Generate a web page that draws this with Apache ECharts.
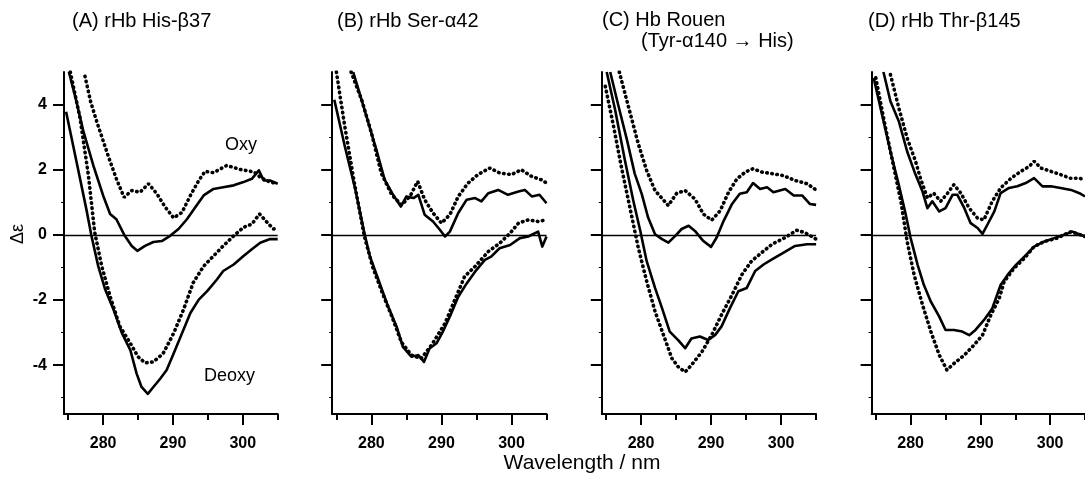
<!DOCTYPE html>
<html>
<head>
  <meta charset="utf-8">
  <script src="https://cdn.jsdelivr.net/npm/echarts@6.0.0/dist/echarts.min.js"></script>
  <style>
    html, body { margin: 0; padding: 0; background: #fff; }
    #main { width: 1085px; height: 483px; }
  </style>
</head>
<body>
  <div id="main"></div>
  <script type="text/javascript">
    // 读图得到的数据 [波长 nm, Δε]
    var A_oxy_dot = [[277.4,4.87],[278.2,4.1],[279.1,3.47],[280.7,2.44],[281.9,1.72],[283.0,1.15],[284.1,1.36],[285.3,1.31],[286.5,1.57],[287.7,1.26],[288.9,0.85],[290.1,0.52],[291.3,0.69],[292.5,1.21],[293.7,1.67],[294.6,1.95],[295.8,1.91],[297.7,2.13],[299.6,2.01],[301.6,1.93],[302.5,1.77],[303.9,1.62],[305,1.57]];
    var A_oxy_solid = [[275.1,5.0],[276.0,4.25],[277.2,3.16],[278.6,2.13],[280.0,1.21],[281.0,0.64],[281.9,0.48],[283.1,-0.03],[284.1,-0.34],[284.9,-0.49],[286.0,-0.34],[287.2,-0.22],[288.4,-0.19],[289.6,-0.03],[290.8,0.18],[292.0,0.48],[293.2,0.85],[294.4,1.21],[295.8,1.41],[297.2,1.46],[298.7,1.52],[300.1,1.62],[301.3,1.72],[302.3,1.98],[303.0,1.67],[303.9,1.67],[305,1.57]];
    var A_deoxy_solid = [[274.7,3.78],[276.2,2.24],[277.6,0.79],[278.3,0],[279.3,-0.96],[280.3,-1.68],[281.5,-2.3],[282.7,-3.02],[283.9,-3.54],[284.8,-4.26],[285.5,-4.67],[286.4,-4.88],[287.2,-4.67],[288.2,-4.41],[289.1,-4.15],[290.1,-3.64],[291.3,-3.02],[292.5,-2.4],[293.7,-1.99],[294.9,-1.73],[296.3,-1.37],[297.2,-1.11],[298.7,-0.91],[300.1,-0.65],[301.3,-0.44],[302.5,-0.24],[303.9,-0.13],[305,-0.13]];
    var A_deoxy_dot = [[275.3,5.0],[276.7,3.58],[277.9,1.82],[278.8,0.07],[279.8,-0.96],[281.0,-1.89],[282.4,-2.81],[283.9,-3.33],[285.0,-3.74],[286.0,-3.93],[287.2,-3.9],[288.6,-3.64],[290.1,-3.02],[291.5,-2.3],[292.9,-1.47],[294.4,-0.96],[295.8,-0.65],[297.2,-0.34],[298.7,-0.03],[300.1,0.23],[301.3,0.33],[302.4,0.64],[303.5,0.38],[304.4,0.18],[305,0.2]];

    var B_oxy_dot = [[277.1,5.0],[278.6,4.15],[280.0,3.13],[281.4,1.9],[282.9,1.23],[284.3,0.92],[285.5,1.18],[286.6,1.64],[287.6,1.08],[288.8,0.67],[290.0,0.36],[291.2,0.62],[292.4,1.18],[293.8,1.59],[295.2,1.85],[296.9,2.05],[298.3,1.9],[300.0,1.85],[301.4,2.0],[302.9,1.79],[304.3,1.69],[305,1.59]];
    var B_oxy_solid = [[277.4,5.0],[279.0,3.85],[280.7,2.62],[281.9,1.69],[283.1,1.23],[284.2,0.87],[285.0,1.18],[286.0,1.13],[286.7,1.23],[287.6,0.62],[288.8,0.41],[289.8,0.15],[290.5,-0.05],[291.2,0.1],[292.4,0.67],[293.6,1.08],[294.8,1.13],[295.7,1.03],[296.7,1.28],[298.1,1.38],[299.5,1.23],[301.0,1.33],[301.9,1.38],[302.9,1.18],[304.0,1.23],[305,0.97]];
    var B_deoxy_solid = [[274.7,4.15],[276.2,2.72],[277.6,1.49],[279.0,0.05],[279.8,-0.67],[281.0,-1.38],[282.4,-2.21],[283.6,-2.82],[284.5,-3.44],[285.7,-3.74],[286.7,-3.69],[287.5,-3.9],[288.3,-3.49],[289.3,-3.33],[290.2,-2.97],[291.4,-2.41],[292.4,-1.9],[293.6,-1.49],[294.8,-1.13],[296.2,-0.77],[297.1,-0.67],[298.3,-0.41],[299.8,-0.31],[301.2,-0.1],[302.4,-0.05],[303.8,0.1],[304.4,-0.36],[305,-0.05]];
    var B_deoxy_dot = [[275.0,5.0],[276.2,3.33],[277.6,1.55],[279.0,-0.05],[280.2,-1.0],[281.5,-1.75],[283.0,-2.55],[284.3,-3.3],[285.7,-3.69],[287.1,-3.8],[288.6,-3.38],[290.5,-2.72],[291.9,-2.0],[293.3,-1.28],[294.8,-0.97],[296.7,-0.51],[298.3,-0.26],[299.8,0.05],[301.0,0.36],[302.4,0.46],[303.8,0.41],[305,0.46]];

    var C_oxy_dot = [[276.9,5.0],[278.2,3.94],[279.6,2.8],[280.8,1.98],[282.0,1.36],[283.9,0.9],[285.1,1.28],[286.3,1.36],[287.7,1.1],[288.9,0.64],[290.1,0.45],[291.3,0.74],[292.5,1.31],[293.7,1.72],[294.9,1.93],[296.0,2.03],[297.2,1.93],[298.7,1.88],[300.3,1.82],[302.0,1.67],[303.7,1.57],[305,1.38]];
    var C_oxy_solid = [[275.6,5.0],[276.8,3.94],[278.0,2.91],[279.1,1.88],[280.1,1.26],[281.0,0.54],[282.0,0.02],[283.0,-0.13],[283.9,-0.24],[284.9,-0.03],[285.8,0.18],[286.8,0.28],[287.7,0.12],[288.9,-0.19],[290.0,-0.37],[290.8,-0.08],[291.8,0.43],[293.0,0.95],[294.1,1.26],[295.1,1.31],[296.0,1.59],[297.0,1.41],[298.0,1.46],[298.9,1.31],[300.6,1.41],[301.8,1.21],[303.0,1.21],[304.1,0.95],[305,0.92]];
    var C_deoxy_solid = [[275.1,5.0],[276.3,3.84],[277.7,2.29],[278.9,1.05],[279.9,0.12],[280.8,-0.8],[282.0,-1.63],[283.0,-2.25],[284.1,-2.97],[285.3,-3.23],[286.3,-3.48],[287.2,-3.18],[288.4,-3.12],[289.6,-3.23],[290.6,-3.07],[291.5,-2.81],[292.7,-2.25],[293.9,-1.73],[295.1,-1.63],[296.3,-1.11],[297.5,-0.91],[298.7,-0.75],[300.3,-0.55],[302.0,-0.34],[303.7,-0.29],[305,-0.29]];
    var C_deoxy_dot = [[274.9,4.56],[276.0,3.42],[277.2,2.08],[278.4,0.85],[279.6,-0.39],[280.8,-1.42],[282.0,-2.35],[283.2,-3.07],[284.4,-3.79],[285.3,-4.05],[286.3,-4.21],[287.2,-4.0],[288.7,-3.59],[290.1,-3.07],[291.5,-2.45],[293.0,-1.84],[294.4,-1.22],[295.8,-0.8],[297.2,-0.55],[298.7,-0.29],[300.6,-0.08],[302.2,0.14],[303.4,0.07],[305,-0.13]];

    var D_oxy_dot = [[277.1,4.92],[278.3,3.9],[279.5,2.97],[280.7,2.26],[281.4,1.74],[282.4,1.13],[283.3,1.28],[284.3,1.03],[285.3,1.28],[286.2,1.54],[287.2,1.28],[288.4,0.82],[289.6,0.51],[290.5,0.46],[291.7,1.03],[292.9,1.44],[294.4,1.74],[295.8,1.95],[297.0,2.1],[297.7,2.26],[298.7,2.05],[300.1,1.95],[301.5,1.85],[302.9,1.74],[304.2,1.74],[305,1.69]];
    var D_oxy_solid = [[276.1,5.0],[277.1,4.1],[278.3,3.49],[279.5,2.56],[280.7,1.85],[281.7,1.33],[282.4,0.82],[283.1,1.03],[284.1,0.72],[285.0,0.82],[286.0,1.23],[286.7,1.23],[287.7,0.82],[288.6,0.36],[289.6,0.21],[290.3,0.03],[291.0,0.31],[292.0,0.72],[292.9,1.28],[294.1,1.44],[295.3,1.49],[296.5,1.59],[297.7,1.74],[298.9,1.49],[300.1,1.49],[301.5,1.44],[303.0,1.38],[304.2,1.28],[305,1.18]];
    var D_deoxy_solid = [[274.7,4.82],[275.9,3.69],[277.1,2.56],[278.3,1.54],[279.3,0.62],[280.0,-0.1],[281.0,-0.92],[281.9,-1.54],[282.9,-2.05],[284.1,-2.51],[285.0,-2.92],[286.2,-2.92],[287.4,-2.97],[288.4,-3.08],[289.3,-2.92],[290.5,-2.62],[291.7,-2.26],[292.9,-1.54],[293.9,-1.23],[295.1,-0.92],[296.3,-0.67],[297.7,-0.36],[299.1,-0.21],[300.6,-0.1],[302.0,0.0],[303.2,0.1],[305,-0.05]];
    var D_deoxy_dot = [[275.0,4.82],[276.2,3.49],[277.4,2.26],[278.6,1.03],[279.5,-0.21],[280.5,-1.23],[281.7,-2.15],[282.9,-2.97],[284.1,-3.69],[285.2,-4.15],[286.2,-3.95],[287.7,-3.69],[289.1,-3.38],[290.3,-3.08],[291.5,-2.46],[292.7,-1.95],[293.4,-1.44],[294.8,-1.03],[296.3,-0.72],[297.7,-0.36],[299.1,-0.21],[301.0,-0.1],[303.0,0.1],[305,-0.05]];

    // 刻度
    var xMajor = [280, 290, 300];
    var xMinor = [275, 285, 295, 305];
    var yMajor = [-4, -2, 0, 2, 4];
    var yMinor = [-5, -3, -1, 1, 3];

    var FONT = '"Liberation Sans", Arial, sans-serif';

    // 四个面板
    var panels = [
      { left: 64, width: 213.7, curves: [A_oxy_dot, A_oxy_solid, A_deoxy_solid, A_deoxy_dot] },
      { left: 332.2, width: 214.3, curves: [B_oxy_dot, B_oxy_solid, B_deoxy_solid, B_deoxy_dot] },
      { left: 601.8, width: 214.3, curves: [C_oxy_dot, C_oxy_solid, C_deoxy_solid, C_deoxy_dot] },
      { left: 871.6, width: 214, curves: [D_oxy_dot, D_oxy_solid, D_deoxy_solid, D_deoxy_dot] }
    ];
    var dotted = [true, false, false, true];

    var grid = [], xAxis = [], yAxis = [], series = [];
    panels.forEach(function (p, i) {
      grid.push({ left: p.left, top: 72, width: p.width, height: 342 });
      // 主刻度 x
      xAxis.push({
        type: 'value', gridIndex: i, min: 274.4, max: 305, position: 'bottom',
        axisLine: { onZero: false, lineStyle: { color: '#000', width: 2 } },
        axisTick: { customValues: xMajor, length: 11, lineStyle: { color: '#000', width: 2 } },
        axisLabel: { customValues: xMajor, margin: 22, color: '#000', fontSize: 16, fontWeight: 'bold', fontFamily: FONT },
        splitLine: { show: false }
      });
      // 次刻度 x
      xAxis.push({
        type: 'value', gridIndex: i, min: 274.4, max: 305, position: 'bottom',
        axisLine: { show: false, onZero: false },
        axisTick: { customValues: xMinor, length: 6, lineStyle: { color: '#000', width: 2 } },
        axisLabel: { show: false },
        splitLine: { show: false }
      });
      yAxis.push({
        type: 'value', gridIndex: i, min: -5.5, max: 5, position: 'left',
        axisLine: { show: true, onZero: false, lineStyle: { color: '#000', width: 2 } },
        axisTick: { show: true, customValues: yMajor, length: 11, lineStyle: { color: '#000', width: 2 } },
        axisLabel: { show: i === 0, customValues: yMajor, margin: 17, color: '#000', fontSize: 16, fontWeight: 'bold', fontFamily: FONT },
        splitLine: { show: false }
      });
      yAxis.push({
        type: 'value', gridIndex: i, min: -5.5, max: 5, position: 'left',
        axisLine: { show: false, onZero: false },
        axisTick: { show: true, customValues: yMinor, length: 3, lineStyle: { color: '#000', width: 1 } },
        axisLabel: { show: false },
        splitLine: { show: false }
      });
      p.curves.forEach(function (d, k) {
        var s = {
          type: 'line', xAxisIndex: i * 2, yAxisIndex: i * 2, data: d,
          symbol: 'none', smooth: false, silent: true,
          lineStyle: dotted[k]
            ? { color: '#000', width: 3.6, type: [0.5, 4.6], cap: 'round' }
            : { color: '#000', width: 2.6, join: 'round' }
        };
        if (k === 0) {
          s.markLine = {
            silent: true, symbol: 'none', label: { show: false },
            lineStyle: { color: '#000', width: 1.4, type: 'solid' },
            data: [{ yAxis: 0 }]
          };
        }
        series.push(s);
      });
    });

    function txt(x, y, text, size, extra) {
      var st = { text: text, fill: '#000', font: 'normal ' + size + 'px ' + FONT, textAlign: 'left', textVerticalAlign: 'middle' };
      return Object.assign({ type: 'text', x: x, y: y, style: st, silent: true }, extra || {});
    }

    var graphic = [
      txt(72, 21, '(A) rHb His-β37', 20),
      txt(337, 21, '(B) rHb Ser-α42', 20),
      txt(602, 20, '(C) Hb Rouen', 20),
      txt(641, 41, '(Tyr-α140 → His)', 20),
      txt(868, 21, '(D) rHb Thr-β145', 20),
      txt(225, 145, 'Oxy', 18),
      txt(204, 376, 'Deoxy', 18),
      {
        type: 'text', x: 582, y: 463, silent: true,
        style: { text: 'Wavelength / nm', fill: '#000', font: 'normal 21px ' + FONT, textAlign: 'center', textVerticalAlign: 'middle' }
      },
      {
        type: 'text', x: 18, y: 234, rotation: Math.PI / 2, silent: true,
        style: { text: 'Δε', fill: '#000', font: 'normal 18px ' + FONT, textAlign: 'center', textVerticalAlign: 'middle' }
      }
    ];

    var myChart = echarts.init(document.getElementById('main'));
    myChart.setOption({
      animation: false,
      backgroundColor: '#fff',
      grid: grid,
      xAxis: xAxis,
      yAxis: yAxis,
      series: series,
      graphic: graphic
    });
  </script>
</body>
</html>
